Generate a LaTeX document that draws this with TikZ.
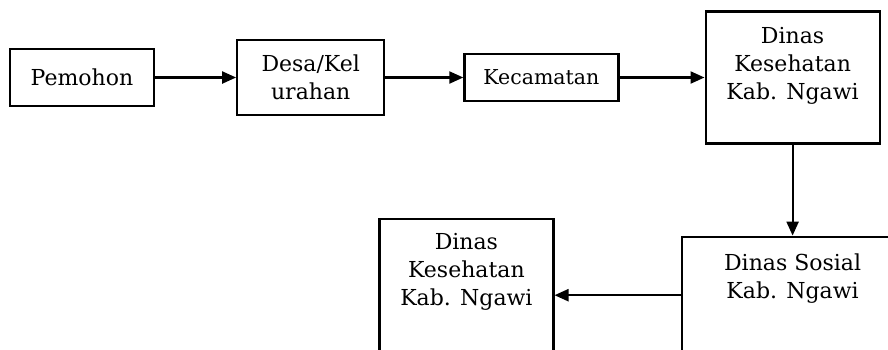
\documentclass[tikz,border=0pt]{standalone}
\usepackage{fontspec}
\setmainfont{DejaVu Serif}
\newcommand{\topgap}[1]{\rule{0pt}{#1}}
\newcommand{\botgap}[1]{\rule[-#1]{0pt}{#1}}
\usetikzlibrary{arrows.meta, positioning}
\tikzset{->,>={Triangle[length=14pt,width=12pt]},
    x=1pt, y=-1pt,
    box/.style={draw,rectangle,align=center,inner xsep=4pt,
        font=\fontsize{22}{28}\selectfont},
    tallbox/.style={box,inner ysep=0pt,minimum width=174pt},
    smallbox/.style={box,font=\fontsize{20.5}{24}\selectfont}}

\begin{document}
\begin{tikzpicture}[line width=2.2pt]
\clip (0,0) rectangle (888,349);
\node[box,minimum width=144pt,minimum height=57pt] (pem) at (82,77.5) {Pemohon};
\node[box,minimum width=147pt,minimum height=75pt] (desa) [right=81pt of pem] {Desa/Kel\\urahan};
\node[smallbox,minimum width=154pt,minimum height=47pt] (kec) [right=78pt of desa] {Kecamatan};
\node[tallbox] (dinas) [right=85pt of kec] {\topgap{32pt}Dinas\\Kesehatan\\Kab. Ngawi\botgap{44pt}};
\node[tallbox,minimum width=222pt] (sos) [below=91pt of dinas] {\topgap{34pt}Dinas Sosial\\Kab. Ngawi\botgap{55pt}};
\node[tallbox] (kes) [left=126pt of sos] {\topgap{31pt}Dinas\\Kesehatan\\Kab. Ngawi\botgap{66pt}};
\path[]
	(pem)	edge 	[] 	node [] {} (desa)
	(desa)	edge 	[] 	node [] {} (kec)
	(kec)	edge 	[] 	node [] {} (dinas)
	(dinas)	edge 	[] 	node [] {} (sos)
	(sos)	edge 	[] 	node [] {} (kes);
\end{tikzpicture}
\end{document}
